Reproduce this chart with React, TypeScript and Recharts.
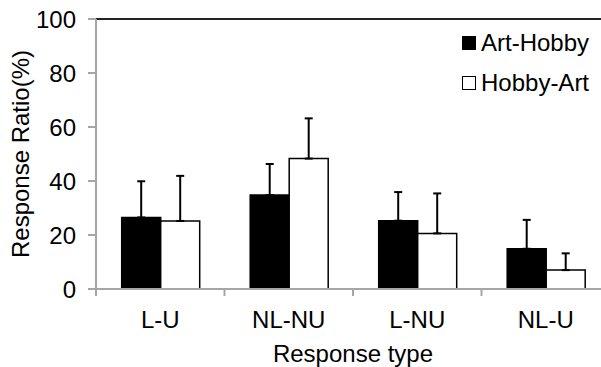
import React from 'react';
import {
  BarChart,
  Bar,
  XAxis,
  YAxis,
  ErrorBar,
  ReferenceLine,
} from 'recharts';

// values (percent)
const categories = ['L-U', 'NL-NU', 'L-NU', 'NL-U'];
const artHobby = [26.5, 34.8, 25.3, 14.9];
const artHobbyErr = [13.4, 11.5, 10.6, 10.7];
const hobbyArt = [25.2, 48.3, 20.6, 7.0];
const hobbyArtErr = [16.7, 14.9, 14.8, 6.2];
const yTicks = [0, 20, 40, 60, 80, 100];
const legendItems = [
  { label: 'Art-Hobby', fill: '#000' },
  { label: 'Hobby-Art', fill: '#fff' },
];

const data = categories.map((name, i) => ({
  name,
  artHobby: artHobby[i],
  artHobbyErr: [0, artHobbyErr[i]],
  hobbyArt: hobbyArt[i],
  hobbyArtErr: [0, hobbyArtErr[i]],
}));

const FONT = '"Liberation Sans", Arial, sans-serif';
const AXIS = '#a6a6a6';

// category label in the middle, small tick mark at the left edge of the band
function CategoryTick(props: any) {
  const { x, y, payload } = props;
  const half = payload.offset || 0;
  return (
    <g>
      <line x1={x - half} x2={x - half} y1={y - 1} y2={y + 7} stroke={AXIS} strokeWidth={2} />
      <text x={x} y={y + 39} textAnchor="middle" fontSize={24} fontFamily={FONT} fill="#000">
        {payload.value}
      </text>
    </g>
  );
}

function LegendBox() {
  return (
    <div
      style={{
        position: 'absolute',
        left: 462,
        top: 23,
        fontFamily: FONT,
        fontSize: 24,
        color: '#000',
        lineHeight: '24px',
      }}
    >
      {legendItems.map((it) => (
        <div key={it.label} style={{ display: 'flex', alignItems: 'center', height: 40 }}>
          <span
            style={{
              display: 'inline-block',
              width: 12,
              height: 12,
              background: it.fill,
              border: '1.5px solid #000',
              marginRight: 5,
            }}
          />
          <span>{it.label}</span>
        </div>
      ))}
    </div>
  );
}

export default function App() {
  return (
    <div
      style={{
        position: 'fixed',
        left: 0,
        top: 0,
        width: 601,
        height: 367,
        overflow: 'hidden',
        background: '#fff',
      }}
    >
      <BarChart
        width={620}
        height={367}
        data={data}
        margin={{ top: 19, right: 10, bottom: 0, left: 0 }}
        barCategoryGap="20%"
        barGap={0}
      >
        <YAxis
          width={96}
          domain={[0, 100]}
          ticks={yTicks}
          tickSize={8}
          tickMargin={12}
          axisLine={{ stroke: AXIS, strokeWidth: 2 }}
          tickLine={{ stroke: AXIS, strokeWidth: 2 }}
          tick={{ fill: '#000', fontSize: 24, fontFamily: FONT }}
          label={{
            value: 'Response Ratio(%)',
            angle: -90,
            position: 'insideLeft',
            offset: 0,
            dx: 20,
            style: { textAnchor: 'middle', fill: '#000', fontSize: 24, fontFamily: FONT },
          }}
        />
        <XAxis
          dataKey="name"
          height={78}
          tickLine={false}
          tickSize={0}
          tickMargin={0}
          axisLine={{ stroke: AXIS, strokeWidth: 2 }}
          tick={<CategoryTick />}
          interval={0}
          label={{
            value: 'Response type',
            position: 'insideBottom',
            offset: 5,
            style: { fill: '#000', fontSize: 24, fontFamily: FONT },
          }}
        />
        <ReferenceLine y={100} stroke="#222" strokeWidth={2} />
        <Bar dataKey="artHobby" fill="#000" stroke="#000" strokeWidth={1.5} isAnimationActive={false}>
          <ErrorBar dataKey="artHobbyErr" width={4} stroke="#000" strokeWidth={2} />
        </Bar>
        <Bar dataKey="hobbyArt" fill="#fff" stroke="#000" strokeWidth={1.5} isAnimationActive={false}>
          <ErrorBar dataKey="hobbyArtErr" width={4} stroke="#000" strokeWidth={2} />
        </Bar>
      </BarChart>
      <LegendBox />
    </div>
  );
}
